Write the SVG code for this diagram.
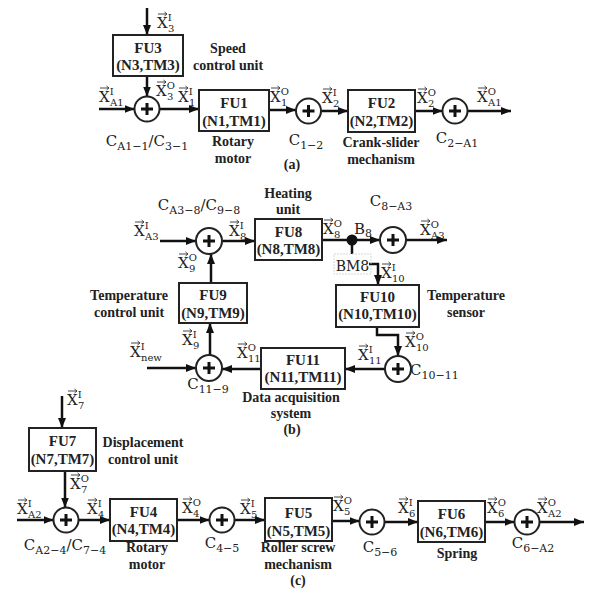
<svg xmlns="http://www.w3.org/2000/svg" width="589" height="590" viewBox="0 0 589 590">
<defs>
<marker id="ah" markerWidth="10" markerHeight="8" refX="10" refY="4" orient="auto" markerUnits="userSpaceOnUse"><path d="M0 0 L10 4 L0 8 z" fill="#111"/></marker>
<style>
.box{fill:#fff;stroke:#222;stroke-width:2}
.c{fill:#fff;stroke:#222;stroke-width:2}
.p{stroke:#111;stroke-width:3;fill:none}
.w{fill:none;stroke:#111;stroke-width:2.5;marker-end:url(#ah)}
.wn{fill:none;stroke:#111;stroke-width:2.5}
.vec{fill:none;stroke:#333;stroke-width:0.9}
.t{font-family:"Liberation Serif",serif;font-weight:bold;font-size:15px;text-anchor:middle;fill:#222}
.l{font-family:"Liberation Serif",serif;font-weight:bold;font-size:14px;text-anchor:middle;fill:#222}
.m{font-family:"DejaVu Serif",serif;font-size:15px;fill:#222}
.mc{font-family:"DejaVu Serif",serif;font-size:15px;fill:#222;text-anchor:middle}
.s{font-size:10px}
.cs{font-size:11px}
</style>
</defs>
<rect width="589" height="590" fill="#fff"/>

<g id="connectors">
<path class="w" d="M147 8 V35"/>
<path class="w" d="M147 76 V96.5"/>
<path class="w" d="M99 109 H134.5"/>
<path class="w" d="M159.5 109 H199"/>
<path class="w" d="M269 110 H296"/>
<path class="w" d="M321 111 H348"/>
<path class="w" d="M415 111 H442.5"/>
<path class="w" d="M467.5 111 H511"/>
<path class="w" d="M160 241 H196"/>
<path class="w" d="M222 241 H255"/>
<path class="w" d="M322 240 H380"/>
<path class="w" d="M406 240 H447"/>
<path class="wn" d="M352 240 V254"/>
<path class="w" d="M369 264 H378 V285"/>
<path class="w" d="M377 327 V335 H398 V356"/>
<path class="w" d="M385 369 H345"/>
<path class="w" d="M261 369 H222"/>
<path class="w" d="M147 368 H196"/>
<path class="w" d="M210 355 V323"/>
<path class="w" d="M211 283 V254"/>
<path class="w" d="M62 396 V428"/>
<path class="w" d="M65 471 V507.5"/>
<path class="w" d="M17 520 H53.5"/>
<path class="w" d="M78.5 520 H110"/>
<path class="w" d="M177 520 H209.5"/>
<path class="w" d="M234.5 520 H265"/>
<path class="w" d="M332 521 H359.5"/>
<path class="w" d="M384.5 522 H418"/>
<path class="w" d="M485 522 H514.5"/>
<path class="w" d="M539.5 522 H584"/>
</g>

<g id="signal-labels">
<path class="vec" d="M158 14h9m-2.5 -2l2.5 2l-2.5 2 M157 82h9m-2.5 -2l2.5 2l-2.5 2 M100 88h9m-2.5 -2l2.5 2l-2.5 2 M179 88h9m-2.5 -2l2.5 2l-2.5 2 M271 88h9m-2.5 -2l2.5 2l-2.5 2 M323 89h9m-2.5 -2l2.5 2l-2.5 2 M418 89h9m-2.5 -2l2.5 2l-2.5 2 M478 88h9m-2.5 -2l2.5 2l-2.5 2 M135 222h9m-2.5 -2l2.5 2l-2.5 2 M230 222h9m-2.5 -2l2.5 2l-2.5 2 M324 220h9m-2.5 -2l2.5 2l-2.5 2 M421 221h9m-2.5 -2l2.5 2l-2.5 2 M382 264h9m-2.5 -2l2.5 2l-2.5 2 M406 333h9m-2.5 -2l2.5 2l-2.5 2 M359 346h9m-2.5 -2l2.5 2l-2.5 2 M238 344h9m-2.5 -2l2.5 2l-2.5 2 M131 343h9m-2.5 -2l2.5 2l-2.5 2 M183 331h9m-2.5 -2l2.5 2l-2.5 2 M179 254h9m-2.5 -2l2.5 2l-2.5 2 M68 391h9m-2.5 -2l2.5 2l-2.5 2 M71 475h9m-2.5 -2l2.5 2l-2.5 2 M18 500h9m-2.5 -2l2.5 2l-2.5 2 M88 500h9m-2.5 -2l2.5 2l-2.5 2 M183 499h9m-2.5 -2l2.5 2l-2.5 2 M241 500h9m-2.5 -2l2.5 2l-2.5 2 M334 497h9m-2.5 -2l2.5 2l-2.5 2 M399 499h9m-2.5 -2l2.5 2l-2.5 2 M488 499h9m-2.5 -2l2.5 2l-2.5 2 M538 499h9m-2.5 -2l2.5 2l-2.5 2"/>
<text class="m" x="157" y="28">X<tspan class="s" dy="-7">I</tspan><tspan class="s" x="168" dy="11">3</tspan></text>
<text class="m" x="156" y="96">X<tspan class="s" dy="-7">O</tspan><tspan class="s" x="167" dy="11">3</tspan></text>
<text class="m" x="99" y="102">X<tspan class="s" dy="-7">I</tspan><tspan class="s" x="110" dy="11">A1</tspan></text>
<text class="m" x="178" y="102">X<tspan class="s" dy="-7">I</tspan><tspan class="s" x="189" dy="11">1</tspan></text>
<text class="m" x="270" y="102">X<tspan class="s" dy="-7">O</tspan><tspan class="s" x="281" dy="11">1</tspan></text>
<text class="m" x="322" y="103">X<tspan class="s" dy="-7">I</tspan><tspan class="s" x="333" dy="11">2</tspan></text>
<text class="m" x="417" y="103">X<tspan class="s" dy="-7">O</tspan><tspan class="s" x="428" dy="11">2</tspan></text>
<text class="m" x="477" y="102">X<tspan class="s" dy="-7">O</tspan><tspan class="s" x="488" dy="11">A1</tspan></text>

<text class="m" x="134" y="236">X<tspan class="s" dy="-7">I</tspan><tspan class="s" x="145" dy="11">A3</tspan></text>
<text class="m" x="229" y="236">X<tspan class="s" dy="-7">I</tspan><tspan class="s" x="240" dy="11">8</tspan></text>
<text class="m" x="323" y="234">X<tspan class="s" dy="-7">O</tspan><tspan class="s" x="334" dy="11">8</tspan></text>
<text class="m" x="420" y="235">X<tspan class="s" dy="-7">O</tspan><tspan class="s" x="431" dy="11">A3</tspan></text>
<text class="m" x="354" y="234">B<tspan class="cs" dy="3">8</tspan></text>
<rect x="334" y="254" width="37" height="20" fill="none" stroke="#ccc" stroke-width="0.8" stroke-dasharray="2 1"/>
<text class="mc" x="352.5" y="271" style="font-size:14px">BM8</text>
<text class="m" x="381" y="278">X<tspan class="s" dy="-7">I</tspan><tspan class="s" x="392" dy="11">10</tspan></text>
<text class="m" x="405" y="347">X<tspan class="s" dy="-7">O</tspan><tspan class="s" x="416" dy="11">10</tspan></text>
<text class="m" x="358" y="360">X<tspan class="s" dy="-7">I</tspan><tspan class="s" x="369" dy="11">11</tspan></text>
<text class="m" x="237" y="358">X<tspan class="s" dy="-7">O</tspan><tspan class="s" x="248" dy="11">11</tspan></text>
<text class="m" x="130" y="357">X<tspan class="s" dy="-7">I</tspan><tspan class="s" x="141" dy="11">new</tspan></text>
<text class="m" x="182" y="345">X<tspan class="s" dy="-7">I</tspan><tspan class="s" x="193" dy="11">9</tspan></text>
<text class="m" x="178" y="268">X<tspan class="s" dy="-7">O</tspan><tspan class="s" x="189" dy="11">9</tspan></text>

<text class="m" x="67" y="405">X<tspan class="s" dy="-7">I</tspan><tspan class="s" x="78" dy="11">7</tspan></text>
<text class="m" x="70" y="489">X<tspan class="s" dy="-7">O</tspan><tspan class="s" x="81" dy="11">7</tspan></text>
<text class="m" x="17" y="514">X<tspan class="s" dy="-7">I</tspan><tspan class="s" x="28" dy="11">A2</tspan></text>
<text class="m" x="87" y="514">X<tspan class="s" dy="-7">I</tspan><tspan class="s" x="98" dy="11">4</tspan></text>
<text class="m" x="182" y="513">X<tspan class="s" dy="-7">O</tspan><tspan class="s" x="193" dy="11">4</tspan></text>
<text class="m" x="240" y="514">X<tspan class="s" dy="-7">I</tspan><tspan class="s" x="251" dy="11">5</tspan></text>
<text class="m" x="333" y="511">X<tspan class="s" dy="-7">O</tspan><tspan class="s" x="344" dy="11">5</tspan></text>
<text class="m" x="398" y="513">X<tspan class="s" dy="-7">I</tspan><tspan class="s" x="409" dy="11">6</tspan></text>
<text class="m" x="487" y="513">X<tspan class="s" dy="-7">O</tspan><tspan class="s" x="498" dy="11">6</tspan></text>
<text class="m" x="537" y="513">X<tspan class="s" dy="-7">O</tspan><tspan class="s" x="548" dy="11">A2</tspan></text>
</g>

<g id="FU3"><rect class="box" x="113" y="35" width="70" height="41"/><text class="t" x="148" y="53">FU3</text><text class="t" x="148" y="70">(N3,TM3)</text></g>
<g id="FU1"><rect class="box" x="199" y="90" width="70" height="41"/><text class="t" x="234" y="108">FU1</text><text class="t" x="234" y="126">(N1,TM1)</text></g>
<g id="FU2"><rect class="box" x="348" y="90" width="67" height="42"/><text class="t" x="381.5" y="108">FU2</text><text class="t" x="381.5" y="126">(N2,TM2)</text></g>
<g id="C_A1-1"><circle class="c" cx="147" cy="109" r="12.5"/><path class="p" d="M141 109 H153 M147 103 V115"/></g>
<g id="C_1-2"><circle class="c" cx="308.5" cy="111" r="12.5"/><path class="p" d="M302.5 111 H314.5 M308.5 105 V117"/></g>
<g id="C_2-A1"><circle class="c" cx="455" cy="111" r="12.5"/><path class="p" d="M449 111 H461 M455 105 V117"/></g>

<g id="FU8"><rect class="box" x="255" y="219" width="67" height="41"/><text class="t" x="288.5" y="237">FU8</text><text class="t" x="288.5" y="254">(N8,TM8)</text></g>
<g id="FU9"><rect class="box" x="179" y="283" width="68" height="40"/><text class="t" x="213" y="300">FU9</text><text class="t" x="213" y="318">(N9,TM9)</text></g>
<g id="FU10"><rect class="box" x="336" y="285" width="83" height="42"/><text class="t" x="377.5" y="302">FU10</text><text class="t" x="377.5" y="319">(N10,TM10)</text></g>
<g id="FU11"><rect class="box" x="261" y="348" width="84" height="41"/><text class="t" x="303" y="365">FU11</text><text class="t" x="303" y="382">(N11,TM11)</text></g>
<g id="C_A3-8"><circle class="c" cx="209" cy="241" r="13"/><path class="p" d="M203 241 H215 M209 235 V247"/></g>
<g id="C_8-A3"><circle class="c" cx="393" cy="240" r="13"/><path class="p" d="M387 240 H399 M393 234 V246"/></g>
<g id="C_10-11"><circle class="c" cx="398" cy="369" r="13"/><path class="p" d="M392 369 H404 M398 363 V375"/></g>
<g id="C_11-9"><circle class="c" cx="209" cy="368" r="13"/><path class="p" d="M203 368 H215 M209 362 V374"/></g>
<g id="B8"><circle cx="352" cy="240" r="5.5" fill="#111"/></g>

<g id="FU7"><rect class="box" x="29" y="428" width="67" height="43"/><text class="t" x="62.5" y="446">FU7</text><text class="t" x="62.5" y="464">(N7,TM7)</text></g>
<g id="FU4"><rect class="box" x="110" y="499" width="67" height="42"/><text class="t" x="143.5" y="517">FU4</text><text class="t" x="143.5" y="534">(N4,TM4)</text></g>
<g id="FU5"><rect class="box" x="265" y="498" width="67" height="43"/><text class="t" x="298.5" y="518">FU5</text><text class="t" x="298.5" y="536">(N5,TM5)</text></g>
<g id="FU6"><rect class="box" x="418" y="501" width="67" height="41"/><text class="t" x="451.5" y="519">FU6</text><text class="t" x="451.5" y="537">(N6,TM6)</text></g>
<g id="C_A2-4"><circle class="c" cx="66" cy="520" r="12.5"/><path class="p" d="M60 520 H72 M66 514 V526"/></g>
<g id="C_4-5"><circle class="c" cx="222" cy="520" r="12.5"/><path class="p" d="M216 520 H228 M222 514 V526"/></g>
<g id="C_5-6"><circle class="c" cx="372" cy="522" r="12.5"/><path class="p" d="M366 522 H378 M372 516 V528"/></g>
<g id="C_6-A2"><circle class="c" cx="527" cy="522" r="12.5"/><path class="p" d="M521 522 H533 M527 516 V528"/></g>

<g id="labels">
<text class="l" x="228" y="53">Speed</text><text class="l" x="228" y="70">control unit</text>
<text class="l" x="233" y="146">Rotary</text><text class="l" x="233" y="163">motor</text>
<text class="l" x="381" y="147">Crank-slider</text><text class="l" x="381" y="164">mechanism</text>
<text class="l" x="292" y="169">(a)</text>
<text class="mc" x="147" y="146">C<tspan class="cs" dy="4">A1−1</tspan><tspan dy="-4">/C</tspan><tspan class="cs" dy="4">3−1</tspan></text>
<text class="mc" x="306" y="145">C<tspan class="cs" dy="4">1−2</tspan></text>
<text class="mc" x="457" y="143">C<tspan class="cs" dy="4">2−A1</tspan></text>

<text class="l" x="288" y="198">Heating</text><text class="l" x="288" y="214">unit</text>
<text class="mc" x="199" y="210">C<tspan class="cs" dy="4">A3−8</tspan><tspan dy="-4">/C</tspan><tspan class="cs" dy="4">9−8</tspan></text>
<text class="mc" x="391" y="206">C<tspan class="cs" dy="4">8−A3</tspan></text>
<text class="l" x="129" y="300">Temperature</text><text class="l" x="129" y="317">control unit</text>
<text class="l" x="466" y="300">Temperature</text><text class="l" x="466" y="317">sensor</text>
<text class="m" x="410" y="375">C<tspan class="cs" dy="4">10−11</tspan></text>
<text class="mc" x="208" y="389">C<tspan class="cs" dy="4">11−9</tspan></text>
<text class="l" x="291" y="402">Data acquisition</text><text class="l" x="291" y="418">system</text>
<text class="l" x="292" y="434">(b)</text>

<text class="l" x="143" y="447">Displacement</text><text class="l" x="143" y="464">control unit</text>
<text class="mc" x="65" y="550">C<tspan class="cs" dy="4">A2−4</tspan><tspan dy="-4">/C</tspan><tspan class="cs" dy="4">7−4</tspan></text>
<text class="l" x="147" y="552">Rotary</text><text class="l" x="147" y="569">motor</text>
<text class="mc" x="222" y="548">C<tspan class="cs" dy="4">4−5</tspan></text>
<text class="l" x="298" y="552">Roller screw</text><text class="l" x="298" y="569">mechanism</text>
<text class="l" x="298" y="585">(c)</text>
<text class="mc" x="380" y="552">C<tspan class="cs" dy="4">5−6</tspan></text>
<text class="l" x="457" y="558">Spring</text>
<text class="mc" x="533" y="548">C<tspan class="cs" dy="4">6−A2</tspan></text>
</g>
</svg>
